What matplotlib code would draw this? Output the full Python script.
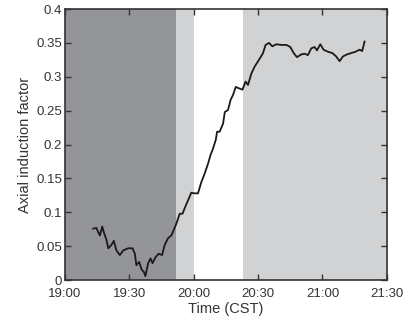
import matplotlib
matplotlib.use("Agg")
import matplotlib.pyplot as plt

# minutes after 19:00 and axial induction factor
minutes = [13.2, 14.7, 15.8, 16.3, 17.4, 18.1, 19.4, 20.2, 21.7, 22.8, 24.0, 25.6,
           27.2, 29.5, 31.5, 32.6, 33.3, 34.6, 35.7, 36.8, 37.5, 38.8, 39.9, 40.8,
           42.3, 43.7, 45.3, 46.5, 48.1, 49.6, 50.7, 52.0, 53.5, 54.8, 55.8, 57.4,
           58.9, 60.5, 62.0, 63.6, 65.1, 66.7, 67.9, 69.0, 70.3, 70.9, 72.1, 73.7,
           74.5, 76.0, 77.2, 78.3, 79.6, 81.1, 82.7, 84.2, 85.3, 86.9, 88.4, 90.4,
           92.3, 93.5, 95.1, 96.6, 98.5, 100.8, 103.2, 105.0, 106.6, 108.1, 110.1,
           111.7, 113.2, 114.8, 116.3, 117.4, 119.0, 120.5, 122.5, 124.6, 126.4,
           128.0, 129.5, 131.4, 133.4, 135.4, 137.3, 138.5, 139.6]
axial = [0.076, 0.077, 0.069, 0.066, 0.079, 0.071, 0.059, 0.047, 0.052, 0.058, 0.044,
         0.037, 0.044, 0.047, 0.047, 0.039, 0.022, 0.027, 0.016, 0.012, 0.006, 0.025,
         0.032, 0.025, 0.034, 0.039, 0.037, 0.052, 0.062, 0.066, 0.074, 0.084, 0.098,
         0.098, 0.106, 0.118, 0.129, 0.128, 0.128, 0.145, 0.157, 0.172, 0.185, 0.194,
         0.207, 0.219, 0.219, 0.231, 0.248, 0.251, 0.266, 0.273, 0.285, 0.283, 0.281,
         0.293, 0.288, 0.305, 0.315, 0.325, 0.335, 0.347, 0.350, 0.345, 0.348, 0.347,
         0.347, 0.344, 0.335, 0.329, 0.333, 0.334, 0.332, 0.342, 0.344, 0.339, 0.348,
         0.340, 0.337, 0.335, 0.330, 0.323, 0.330, 0.333, 0.335, 0.337, 0.340, 0.338,
         0.352]

# shaded periods (minutes after 19:00)
dark_span = (0, 51.7)
light_spans = [(51.7, 60.0), (83.0, 150.0)]

tick_pos = [0, 30, 60, 90, 120, 150]
tick_labels = ["19:00", "19:30", "20:00", "20:30", "21:00", "21:30"]

plt.rcParams["font.family"] = ["Liberation Sans", "DejaVu Sans"]

fig = plt.figure(figsize=(4.03, 3.22), dpi=100)
ax = fig.add_axes([0.161, 0.130, 0.799, 0.842])

ax.axvspan(*dark_span, color="#939598", lw=0)
for a, b in light_spans:
    ax.axvspan(a, b, color="#d1d2d4", lw=0)

ax.plot(minutes, axial, color="#1a1a1a", lw=1.3)

ax.set_xlim(0, 150)
ax.set_ylim(0, 0.4)
ax.set_xticks(tick_pos)
ax.set_xticklabels(tick_labels)
ax.set_yticks([0, 0.05, 0.1, 0.15, 0.2, 0.25, 0.3, 0.35, 0.4])
ax.set_yticklabels(["0", "0.05", "0.1", "0.15", "0.2", "0.25", "0.3", "0.35", "0.4"])
ax.tick_params(direction="in", top=True, right=True, length=4, width=1,
               color="#333333", labelsize=9.5, labelcolor="#333333")
ax.tick_params(axis="x", pad=6)
ax.tick_params(axis="y", pad=2)
for s in ax.spines.values():
    s.set_color("#333333")
    s.set_linewidth(1.2)

ax.set_xlabel("Time (CST)", fontsize=10.5, color="#333333", labelpad=1)
ax.set_ylabel("Axial induction factor", fontsize=10.5, color="#333333", labelpad=3)

fig.savefig("out.png", dpi=100)
